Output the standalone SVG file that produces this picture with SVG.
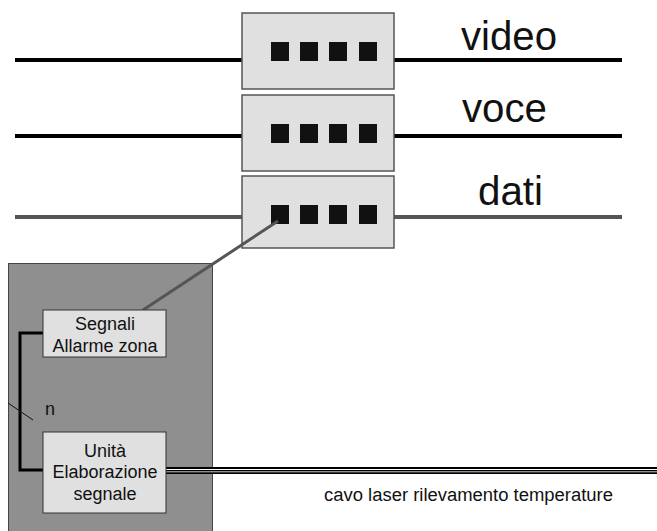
<svg xmlns="http://www.w3.org/2000/svg" width="657" height="531" viewBox="0 0 657 531">
<style>
.sw{fill:#e0e0e0;stroke:#555;stroke-width:1.5}
.sq{fill:#111}
.big{font-family:"Liberation Sans",Arial,sans-serif;font-size:40px;fill:#111}
.lbl{font-family:"Liberation Sans",Arial,sans-serif;font-size:18px;fill:#111;text-anchor:middle}
.box{fill:#e0e0e0;stroke:#333;stroke-width:1}
</style>
<rect width="657" height="531" fill="#fff"/>
<g id="connectors">
<line x1="15" y1="60" x2="622" y2="60" stroke="#000" stroke-width="4"/>
<line x1="15" y1="136" x2="622" y2="136" stroke="#000" stroke-width="4"/>
<line x1="15" y1="217" x2="622" y2="217" stroke="#555" stroke-width="4"/>
</g>
<g id="switch-video">
<rect class="sw" x="242" y="13" width="152" height="76"/>
<rect class="sq" x="271" y="42" width="18" height="19"/>
<rect class="sq" x="300" y="42" width="18" height="19"/>
<rect class="sq" x="329" y="42" width="18" height="19"/>
<rect class="sq" x="359" y="42" width="18" height="19"/>
<text class="big" x="461" y="50" textLength="96" lengthAdjust="spacingAndGlyphs">video</text>
</g>
<g id="switch-voce">
<rect class="sw" x="242" y="95" width="152" height="76"/>
<rect class="sq" x="271" y="124" width="18" height="19"/>
<rect class="sq" x="300" y="124" width="18" height="19"/>
<rect class="sq" x="329" y="124" width="18" height="19"/>
<rect class="sq" x="359" y="124" width="18" height="19"/>
<text class="big" x="462" y="122" textLength="85" lengthAdjust="spacingAndGlyphs">voce</text>
</g>
<g id="switch-dati">
<rect class="sw" x="242" y="176" width="152" height="72"/>
<rect class="sq" x="271" y="205" width="18" height="19"/>
<rect class="sq" x="300" y="205" width="18" height="19"/>
<rect class="sq" x="329" y="205" width="18" height="19"/>
<rect class="sq" x="359" y="205" width="18" height="19"/>
<text class="big" x="478" y="205" textLength="65" lengthAdjust="spacingAndGlyphs">dati</text>
</g>
<g id="panel">
<rect x="8.5" y="263.5" width="204" height="270" fill="#8f8f8f" stroke="#444" stroke-width="1"/>
</g>
<g id="connectors-panel">
<line x1="278" y1="221" x2="143" y2="310" stroke="#555" stroke-width="3"/>
<polyline points="43,333 20,333 20,470 43,470" fill="none" stroke="#000" stroke-width="3"/>
<line x1="8" y1="403" x2="33" y2="420" stroke="#111" stroke-width="1"/>
<rect x="166" y="467" width="491" height="7" fill="#000"/>
<line x1="166" y1="469.5" x2="657" y2="469.5" stroke="#fff" stroke-width="1"/>
<line x1="166" y1="471.8" x2="657" y2="471.8" stroke="#fff" stroke-width="0.8"/>
</g>
<text x="45" y="415" font-family="Liberation Sans, Arial, sans-serif" font-size="18" fill="#111">n</text>
<g id="segnali">
<rect class="box" x="43" y="310" width="123" height="47"/>
<text class="lbl" x="105" y="330">Segnali</text>
<text class="lbl" x="105" y="352">Allarme zona</text>
</g>
<g id="unita">
<rect class="box" x="43" y="432" width="123" height="81"/>
<text class="lbl" x="105" y="457">Unità</text>
<text class="lbl" x="105" y="478">Elaborazione</text>
<text class="lbl" x="105" y="500">segnale</text>
</g>
<text x="324" y="501" font-family="Liberation Sans, Arial, sans-serif" font-size="18" fill="#111" textLength="289" lengthAdjust="spacingAndGlyphs">cavo laser rilevamento temperature</text>
</svg>
